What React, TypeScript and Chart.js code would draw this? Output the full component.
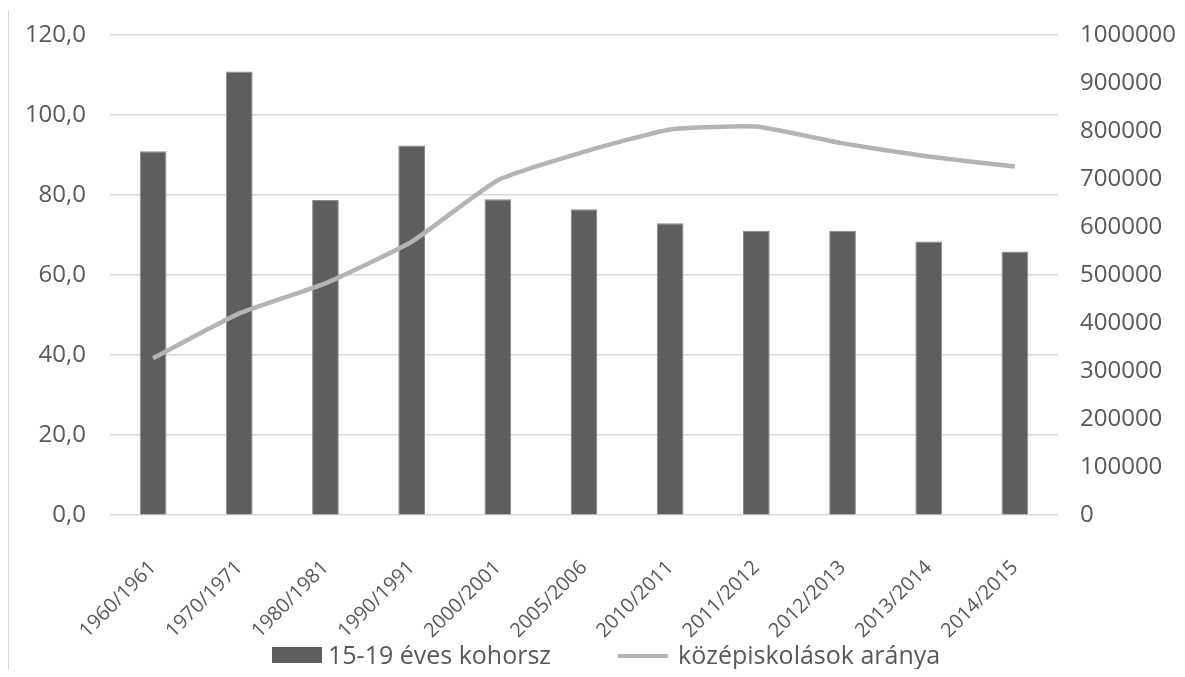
import React, { useEffect, useRef } from "react";
import { Chart, registerables } from "chart.js";

Chart.register(...registerables);

// School years on the category axis
const schoolYears = [
  "1960/1961",
  "1970/1971",
  "1980/1981",
  "1990/1991",
  "2000/2001",
  "2005/2006",
  "2010/2011",
  "2011/2012",
  "2012/2013",
  "2013/2014",
  "2014/2015",
];

// Size of the 15-19 year-old cohort (right axis)
const cohortSize = [
  758000, 924000, 656000, 770000, 658000, 637000, 608000, 592000, 592000,
  570000, 549000,
];

// Share of secondary-school students, % (left axis)
const secondaryShare = [
  39.2, 50.4, 57.9, 68.3, 83.7, 90.8, 96.4, 97.1, 92.9, 89.6, 87.1,
];

// Tick settings for both value axes
const shareTicks = { min: 0, max: 120, step: 20 };
const cohortTicks = { min: 0, max: 1000000, step: 100000 };

const cohortLabel = "15-19 éves kohorsz";
const shareLabel = "középiskolások aránya";

const BAR_COLOR = "#5e5e5e";
const LINE_COLOR = "#b4b4b4";
const TEXT_COLOR = "#595959";
const GRID_COLOR = "#d9d9d9";
const FONT = "'Open Sans', 'DejaVu Sans', sans-serif";

const W = 1169;
const H = 661;

export default function App() {
  const canvasRef = useRef<HTMLCanvasElement | null>(null);

  useEffect(() => {
    const canvas = canvasRef.current;
    if (!canvas) return;

    const chart = new Chart(canvas, {
      type: "bar",
      data: {
        labels: schoolYears,
        datasets: [
          {
            type: "line",
            label: shareLabel,
            data: secondaryShare,
            yAxisID: "y",
            borderColor: LINE_COLOR,
            backgroundColor: LINE_COLOR,
            borderWidth: 4.5,
            pointRadius: 0,
            tension: 0.15,
            order: 0,
          },
          {
            type: "bar",
            label: cohortLabel,
            data: cohortSize,
            yAxisID: "y1",
            backgroundColor: BAR_COLOR,
            borderColor: "#8a8a8a",
            borderWidth: 1,
            categoryPercentage: 1,
            barPercentage: 0.31,
            order: 1,
          },
        ],
      },
      options: {
        responsive: false,
        animation: false,
        layout: { padding: { top: 27, left: 0, right: 0, bottom: 0 } },
        plugins: {
          tooltip: { enabled: false },
          legend: { display: false },
        },
        scales: {
          x: {
            grid: { display: false },
            border: { display: false },
            ticks: {
              color: TEXT_COLOR,
              font: { family: FONT, size: 20 },
              minRotation: 45,
              maxRotation: 45,
              padding: 33,
              autoSkip: false,
            },
            afterFit: (scale: any) => {
              scale.height = 154;
            },
          },
          y: {
            position: "left",
            min: shareTicks.min,
            max: shareTicks.max,
            grid: {
              color: GRID_COLOR,
              lineWidth: 1.5,
              drawTicks: true,
              tickLength: 24,
              tickColor: "rgba(0,0,0,0)",
            },
            border: { display: false },
            ticks: {
              stepSize: shareTicks.step,
              color: TEXT_COLOR,
              font: { family: FONT, size: 24 },
              padding: 0,
              callback: (v: any) => Number(v).toFixed(1).replace(".", ","),
            },
            afterFit: (scale: any) => {
              scale.width = 102;
            },
          },
          y1: {
            position: "right",
            min: cohortTicks.min,
            max: cohortTicks.max,
            grid: {
              display: true,
              drawOnChartArea: false,
              drawTicks: true,
              tickLength: 22,
              tickColor: "rgba(0,0,0,0)",
            },
            border: { display: false },
            ticks: {
              stepSize: cohortTicks.step,
              color: TEXT_COLOR,
              font: { family: FONT, size: 24 },
              padding: 0,
              callback: (v: any) => String(v),
            },
            afterFit: (scale: any) => {
              scale.width = 119;
            },
          },
        },
      },
    });

    return () => chart.destroy();
  }, []);

  const legendText: React.CSSProperties = {
    position: "absolute",
    top: 631,
    height: 30,
    lineHeight: "30px",
    fontFamily: FONT,
    fontSize: 25,
    color: TEXT_COLOR,
    whiteSpace: "nowrap",
  };

  return (
    <div style={{ position: "relative", width: W, height: H }}>
      <div
        style={{
          position: "absolute",
          left: -1,
          top: 2,
          width: 2,
          height: 667,
          background: "#d6d6d6",
        }}
      />
      <canvas
        ref={canvasRef}
        width={W}
        height={H}
        style={{ display: "block", width: W, height: H }}
      />
      <div
        style={{
          position: "absolute",
          left: 264,
          top: 639,
          width: 50,
          height: 16,
          background: BAR_COLOR,
        }}
      />
      <div style={{ ...legendText, left: 320 }}>{cohortLabel}</div>
      <div
        style={{
          position: "absolute",
          left: 610,
          top: 646,
          width: 50,
          height: 4,
          background: LINE_COLOR,
        }}
      />
      <div style={{ ...legendText, left: 670 }}>{shareLabel}</div>
    </div>
  );
}
